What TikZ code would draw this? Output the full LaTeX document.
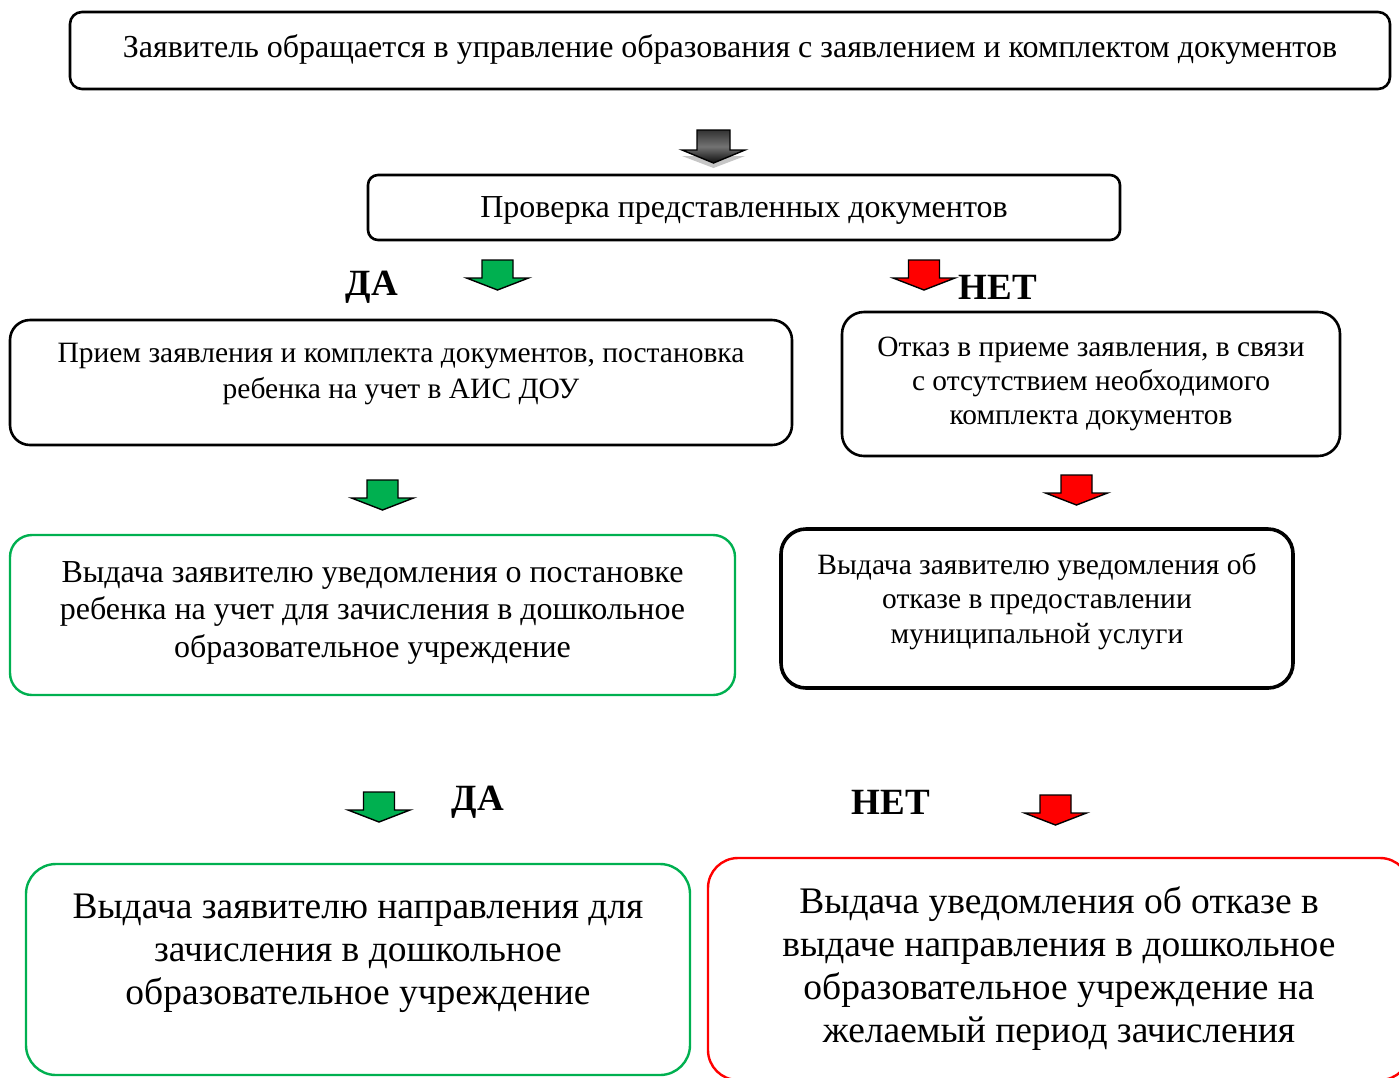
\documentclass[tikz,border=0pt]{standalone}
\usepackage{fontspec}
\setmainfont{Liberation Serif}
\usepackage{tikz}

\definecolor{okgreen}{HTML}{00B050}
\definecolor{nored}{HTML}{FF0000}

\tikzset{
  box/.style={draw, rounded corners=#1, align=center, inner sep=0pt, line width=2.6pt},
  okbox/.style={box=#1, draw=okgreen, line width=2.4pt},
  nobox/.style={box=#1, draw=nored, line width=2.4pt},
  answer/.style={font=\fontsize{37}{37}\selectfont\bfseries},
  pics/blockarrow/.style={code={
    \draw[line width=1.4pt, fill=#1] (-15.5,0) -- (15.5,0) -- (15.5,18) -- (31,18)
      -- (0,30) -- (-31,18) -- (-15.5,18) -- cycle;
  }}
}

\begin{document}
\begin{tikzpicture}[x=1pt, y=-1pt]
 \useasboundingbox (0,0) rectangle (1399,1077);
 \clip (0,0) rectangle (1399,1077);

 % boxes
 \node[box=12pt, minimum width=1320pt, minimum height=77pt,
       font=\fontsize{32}{36}\selectfont, text depth=8pt] (apply) at (730,50.5)
   {Заявитель обращается в управление образования с заявлением и комплектом документов};
 \node[box=10pt, minimum width=752pt, minimum height=65pt,
       font=\fontsize{32}{36}\selectfont, text depth=-3pt] (check) at (744,207.5)
   {Проверка представленных документов};
 \node[box=20pt, minimum width=782pt, minimum height=125pt,
       font=\fontsize{29.5}{36}\selectfont, text depth=23pt] (accept) at (401,382.5)
   {Прием заявления и комплекта документов, постановка\\ребенка на учет в АИС ДОУ};
 \node[box=22pt, minimum width=498pt, minimum height=144pt,
       font=\fontsize{29.4}{34}\selectfont, text depth=7pt] (refuse) at (1091,384)
   {Отказ в приеме заявления, в связи\\с отсутствием необходимого\\комплекта документов};
 \node[okbox=22pt, minimum width=725pt, minimum height=160pt,
       font=\fontsize{32}{37.5}\selectfont, text depth=11pt] (notice) at (372.5,615)
   {Выдача заявителю уведомления о постановке\\ребенка на учет для зачисления в дошкольное\\образовательное учреждение};
 \node[box=25pt, line width=3.6pt, minimum width=512pt, minimum height=159pt,
       font=\fontsize{29.5}{34.5}\selectfont, text depth=21pt] (denial) at (1037,608.5)
   {Выдача заявителю уведомления об\\отказе в предоставлении\\муниципальной услуги};
 \node[okbox=30pt, minimum width=664pt, minimum height=211pt,
       font=\fontsize{37.5}{43}\selectfont, text depth=40pt] (referral) at (358,969.5)
   {Выдача заявителю направления для\\зачисления в дошкольное\\образовательное учреждение};
 \node[nobox=30pt, minimum width=702pt, minimum height=222pt,
       font=\fontsize{37.5}{43}\selectfont, text depth=8pt] (rejection) at (1059,969)
   {Выдача уведомления об отказе в\\выдаче направления в дошкольное\\образовательное учреждение на\\желаемый период зачисления};

 % answers
 \node[answer] (yes1) at (372,287) {ДА};
 \node[answer] (no1) at (998,287) {НЕТ};
 \node[answer] (yes2) at (478,802) {ДА};
 \node[answer] (no2) at (891,802) {НЕТ};

 % block arrows
 \fill[gray!45] (682,156) -- (745,156) -- (713.5,168) -- cycle;
 \draw[line width=1.4pt, top color=black!80, bottom color=black!95, middle color=black!55]
   (697,130) -- (730,130) -- (730,150) -- (745,150) -- (713.5,163) -- (682,150)
   -- (697,150) -- cycle;
 \pic at (497.5,260) {blockarrow=okgreen};
 \pic at (924,260) {blockarrow=nored};
 \pic at (382.5,480) {blockarrow=okgreen};
 \pic at (1076.5,475) {blockarrow=nored};
 \pic at (379,792) {blockarrow=okgreen};
 \pic at (1055.5,795) {blockarrow=nored};
\end{tikzpicture}
\end{document}
